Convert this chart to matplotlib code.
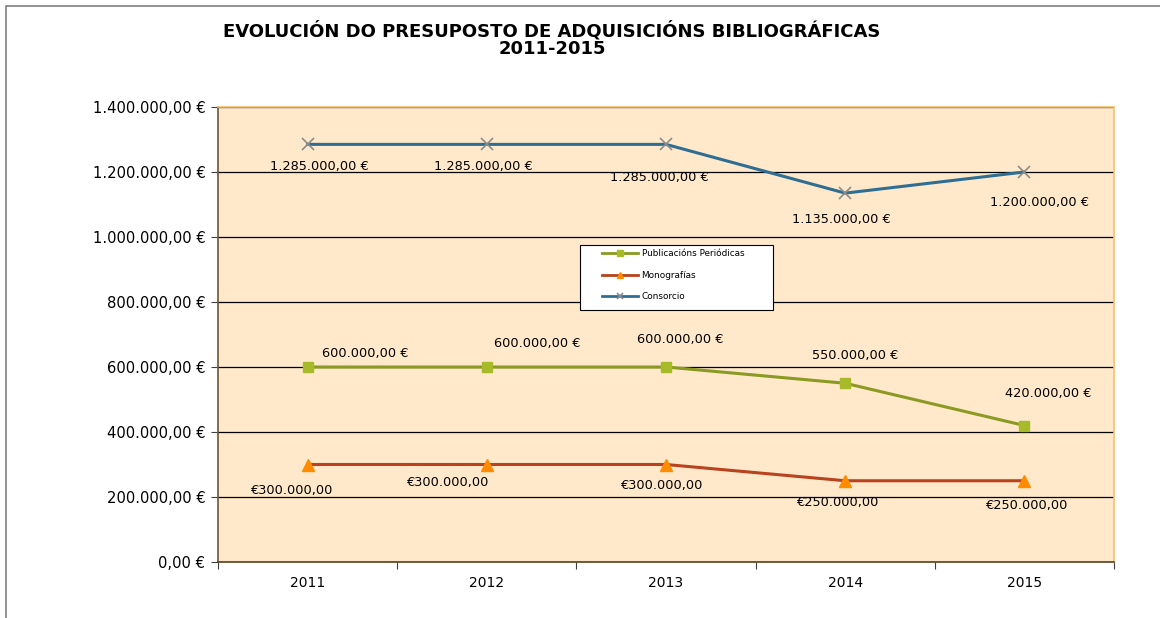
import matplotlib
matplotlib.use("Agg")
import matplotlib.pyplot as plt
from matplotlib.patches import Rectangle
from matplotlib.ticker import FuncFormatter

# Data
years = ["2011", "2012", "2013", "2014", "2015"]
publicacions = [600000, 600000, 600000, 550000, 420000]
monografias = [300000, 300000, 300000, 250000, 250000]
consorcio = [1285000, 1285000, 1285000, 1135000, 1200000]

# Label offsets (pixels) for each data label
pub_offsets = [(58, 14), (50, 24), (14, 27), (10, 28), (24, 32)]
mon_offsets = [(-15, -26), (-39, -18), (-4, -21), (-7, -22), (3, -25)]
con_offsets = [(12, -22), (-3, -22), (-7, -33), (-4, -26), (15, -31)]


def euro_dot(v):
    s = f"{v:,.2f}"
    return s.replace(",", "X").replace(".", ",").replace("X", ".") + " €"


def euro_prefix(v):
    s = f"{v:,.2f}"
    return "€" + s.replace(",", "X").replace(".", ",").replace("X", ".")


plt.rcParams['font.family'] = ['DejaVu Sans']

fig = plt.figure(figsize=(11.6, 6.18), dpi=100)
fig.patches.append(Rectangle((6 / 1160, -0.1), 1.2, (612 / 618) + 0.1,
                             transform=fig.transFigure, fill=False,
                             edgecolor="#808080", linewidth=1.2))

ax = fig.add_axes([218 / 1160, 56 / 618, 896 / 1160, 455 / 618])
ax.set_facecolor("#FFE9CA")

x = list(range(len(years)))
ax.plot(x, publicacions, color="#8A9A22", linewidth=2.2, marker="s",
        markersize=7.5, markerfacecolor="#A7BB2A", markeredgecolor="#A7BB2A",
        label="Publicacións Periódicas", zorder=3)
ax.plot(x, monografias, color="#B8431E", linewidth=2.2, marker="^",
        markersize=8, markerfacecolor="#FF8C00", markeredgecolor="#FF8C00",
        label="Monografías", zorder=3)
ax.plot(x, consorcio, color="#2F6E93", linewidth=2.2, marker="x",
        markersize=8, markeredgecolor="#8C8C8C", markeredgewidth=1.2,
        label="Consorcio", zorder=3)

for xi, v, off in zip(x, publicacions, pub_offsets):
    ax.annotate(euro_dot(v), (xi, v), xytext=off, textcoords="offset pixels",
                ha="center", va="center", fontsize=9.3)
for xi, v, off in zip(x, monografias, mon_offsets):
    ax.annotate(euro_prefix(v), (xi, v), xytext=off, textcoords="offset pixels",
                ha="center", va="center", fontsize=9.3)
for xi, v, off in zip(x, consorcio, con_offsets):
    ax.annotate(euro_dot(v), (xi, v), xytext=off, textcoords="offset pixels",
                ha="center", va="center", fontsize=9.3)

ax.set_xlim(-0.5, len(years) - 0.5)
ax.set_ylim(0, 1400000)
ax.set_yticks(range(0, 1400001, 200000))
ax.yaxis.set_major_formatter(FuncFormatter(lambda v, p: euro_dot(v)))
ax.yaxis.grid(True, color="black", linewidth=0.9)
ax.set_axisbelow(True)

ax.set_xticks([i - 0.5 for i in range(len(years) + 1)])
ax.set_xticklabels([])
ax.set_xticks(x, minor=True)
ax.set_xticklabels(years, minor=True)
ax.tick_params(axis="x", which="minor", length=0, pad=10, labelsize=10)
ax.tick_params(axis="x", which="major", length=5, direction="out", color="#404040")
ax.tick_params(axis="y", length=5, direction="out", color="#404040", labelsize=10.6, pad=4)

ax.spines["top"].set_color("#F7C16A")
ax.spines["right"].set_color("#F7C16A")
ax.spines["left"].set_color("#6E5430")
ax.spines["bottom"].set_color("#5A4020")
for sp in ax.spines.values():
    sp.set_linewidth(1.2)

# legend box drawn separately so its size matches the original
ax.add_patch(Rectangle((0.404, 0.554), 0.2154, 0.143, transform=ax.transAxes,
                       facecolor="white", edgecolor="black", linewidth=0.8,
                       zorder=4))
leg = ax.legend(loc="upper left", bbox_to_anchor=(0.4286, 0.687), fontsize=6.4,
                frameon=False, handlelength=4.1, labelspacing=1.4, borderpad=0,
                handletextpad=0.35, borderaxespad=0)
leg.set_zorder(5)
for h in leg.legend_handles:
    h.set_markersize(5)
    h.set_linewidth(2)

fig.text(552 / 1160, 1 - 31 / 618, "EVOLUCIÓN DO PRESUPOSTO DE ADQUISICIÓNS BIBLIOGRÁFICAS",
         ha="center", va="center", fontsize=13, fontweight="bold")
fig.text(552 / 1160, 1 - 49 / 618, "2011-2015",
         ha="center", va="center", fontsize=13, fontweight="bold")

fig.savefig("out.png", dpi=100)
